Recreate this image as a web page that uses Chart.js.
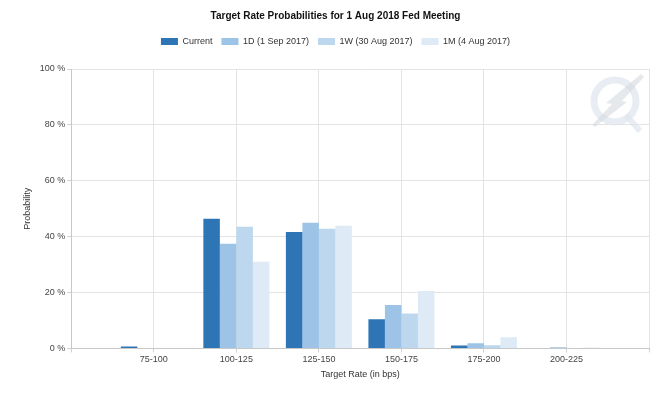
<!DOCTYPE html>
<html>
<head>
<meta charset="utf-8">
<script src="https://cdn.jsdelivr.net/npm/chart.js@4"></script>
<style>
  html, body { margin: 0; padding: 0; background: #fff; }
  #wrap { width: 667px; height: 393px; }
</style>
</head>
<body>
<div id="wrap"><canvas id="fedchart" width="667" height="393"></canvas></div>
<script>
const categories = ['75-100', '100-125', '125-150', '150-175', '175-200', '200-225'];
const current = [0.7, 46.4, 41.7, 10.4, 1.0, 0];
const oneDay = [0, 37.5, 45.0, 15.5, 1.8, 0.4];
const oneWeek = [0, 43.5, 42.8, 12.5, 1.1, 0];
const oneMonth = [0, 31.0, 43.9, 20.5, 4.0, 0.3];
const seriesNames = ['Current', '1D (1 Sep 2017)', '1W (30 Aug 2017)', '1M (4 Aug 2017)'];
const yTicks = [0, 20, 40, 60, 80, 100];

// empty slot at each end so the groups sit on the grid lines
const labels = [''].concat(categories, ['']);
const pad = arr => [null].concat(arr, [null]);

const colors = ['#2e75b6', '#9dc3e6', '#bdd7ee', '#deebf7'];

// extra room between legend and plot
const legendGap = {
    id: 'legendGap',
    beforeUpdate(chart) {
        const lg = chart.legend;
        if (lg && !lg._gapped) {
            const fit = lg.fit;
            lg.fit = function () {
                fit.call(this);
                this.height += 13;
            };
            lg._gapped = true;
        }
    }
};

// faint logo in the top right corner
const logo = {
    id: 'logo',
    beforeDatasetsDraw(chart) {
        const c = chart.ctx;
        c.save();
        c.strokeStyle = 'rgba(222,230,238,0.7)';
        c.lineWidth = 7;
        c.beginPath();
        c.arc(615, 101, 21, 0, Math.PI * 2);
        c.stroke();
        c.lineWidth = 6;
        c.beginPath();
        c.moveTo(626, 115);
        c.lineTo(640, 131);
        c.stroke();
        c.fillStyle = 'rgba(214,218,223,0.6)';
        c.beginPath();
        c.moveTo(641, 74);
        c.lineTo(644, 77);
        c.lineTo(622, 101);
        c.lineTo(627, 102);
        c.lineTo(595, 127);
        c.lineTo(592, 125);
        c.lineTo(612, 104);
        c.lineTo(606, 103);
        c.closePath();
        c.fill();
        c.restore();
    }
};

new Chart(document.getElementById('fedchart'), {
    type: 'bar',
    data: {
        labels: labels,
        datasets: [current, oneDay, oneWeek, oneMonth].map((d, i) => ({
            label: seriesNames[i],
            data: pad(d),
            backgroundColor: colors[i],
            borderWidth: 0,
            categoryPercentage: 0.8,
            barPercentage: 1.0
        }))
    },
    options: {
        responsive: false,
        animation: false,
        layout: { padding: { left: 22, right: 18, top: 4, bottom: 13 } },
        plugins: {
            title: {
                display: true,
                text: 'Target Rate Probabilities for 1 Aug 2018 Fed Meeting',
                color: '#111',
                font: { family: 'Liberation Sans', size: 10, weight: 'bold' },
                padding: { top: 6, bottom: 6 }
            },
            legend: {
                position: 'top',
                labels: {
                    boxWidth: 17,
                    boxHeight: 7,
                    color: '#333',
                    padding: 9,
                    font: { family: 'Liberation Sans', size: 9 }
                }
            },
            tooltip: { enabled: false }
        },
        scales: {
            x: {
                offset: false,
                grid: { offset: false, color: '#e3e3e3', tickLength: 4, tickColor: '#d0d0d0' },
                border: { color: '#c8c8c8' },
                ticks: {
                    color: '#444',
                    font: { family: 'Liberation Sans', size: 9 },
                    maxRotation: 0,
                    autoSkip: false,
                    padding: 2
                },
                title: {
                    display: true,
                    text: 'Target Rate (in bps)',
                    color: '#333',
                    font: { family: 'Liberation Sans', size: 9 },
                    padding: { top: 2, bottom: 0 }
                }
            },
            y: {
                min: 0,
                max: 100,
                afterBuildTicks: scale => { scale.ticks = yTicks.map(v => ({ value: v })); },
                grid: { color: '#e3e3e3', tickLength: 4, tickColor: '#d0d0d0' },
                border: { color: '#c8c8c8' },
                ticks: {
                    color: '#444',
                    font: { family: 'Liberation Sans', size: 9 },
                    padding: 2,
                    callback: v => v + ' %'
                },
                title: {
                    display: true,
                    text: 'Probability',
                    color: '#333',
                    font: { family: 'Liberation Sans', size: 9 },
                    padding: { top: 0, bottom: 5 }
                }
            }
        }
    },
    plugins: [legendGap, logo]
});
</script>
</body>
</html>
